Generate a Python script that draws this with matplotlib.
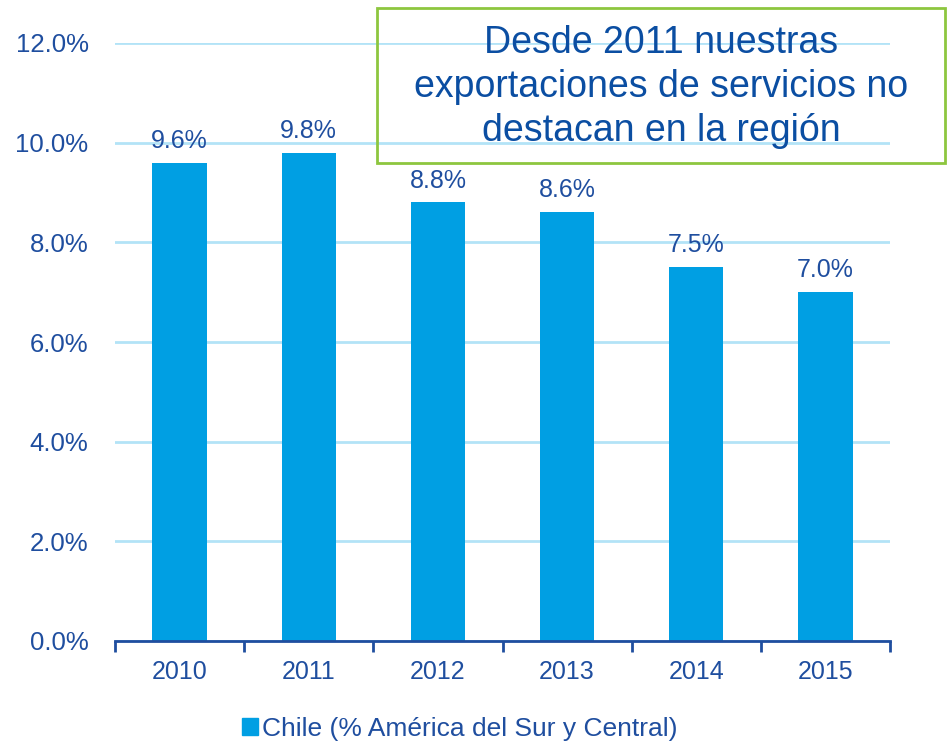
import numpy as np
import matplotlib.pyplot as plt
from matplotlib.patches import Patch

plt.rcParams['font.family'] = ['Liberation Sans', 'DejaVu Sans']

years = ['2010', '2011', '2012', '2013', '2014', '2015']
share = [9.6, 9.8, 8.8, 8.6, 7.5, 7.0]
yticks = [0, 2, 4, 6, 8, 10, 12]

bar_color = '#009fe3'
text_color = '#1f4e9f'
grid_color = '#b3e3f7'

fig = plt.figure(figsize=(9.47, 7.46), dpi=100)
ax = fig.add_axes([115 / 947, 105 / 746, 775 / 947, 598 / 746])

x = np.arange(len(years))
ax.bar(x, share, width=0.42, color=bar_color, zorder=3)
for xi, v in zip(x, share):
    ax.text(xi, v + 0.2, f'{v:.1f}%', ha='center', va='bottom',
            fontsize=18, color=text_color, zorder=4)

ax.set_xlim(-0.5, len(years) - 0.5)
ax.set_ylim(0, 12)
ax.set_yticks(yticks)
ax.set_yticklabels([f'{t:.1f}%' for t in yticks], fontsize=18.5, color=text_color)
ax.set_xticks(x)
ax.set_xticklabels(years, fontsize=18, color=text_color)
ax.set_xticks(np.arange(len(years) + 1) - 0.5, minor=True)
ax.tick_params(axis='x', which='major', length=0, pad=14)
ax.tick_params(axis='x', which='minor', length=8, width=2, color=text_color, direction='out')
ax.tick_params(axis='y', length=0, pad=19)

ax.grid(axis='y', color=grid_color, linewidth=2, zorder=0)
for s in ['top', 'right', 'left']:
    ax.spines[s].set_visible(False)
ax.spines['bottom'].set_color(text_color)
ax.spines['bottom'].set_linewidth(2)
ax.spines['bottom'].set_zorder(5)

handle = Patch(color=bar_color)
fig.legend([handle], ['Chile (% América del Sur y Central)'], loc='center',
           bbox_to_anchor=(460 / 947, 17 / 746), frameon=False, fontsize=19,
           labelcolor=text_color, handlelength=0.6, handleheight=0.6, handletextpad=0.15)

fig.text(661 / 947, 659 / 746,
         'Desde 2011 nuestras\nexportaciones de servicios no\ndestacan en la región',
         ha='center', va='center', fontsize=27, color='#0b4ea2', linespacing=1.3)
box = plt.Rectangle((377 / 947, 583 / 746), 568 / 947, 155 / 746, transform=fig.transFigure,
                    fill=False, edgecolor='#8dc63f', linewidth=2)
fig.patches.append(box)

fig.savefig('out.png', dpi=100)
